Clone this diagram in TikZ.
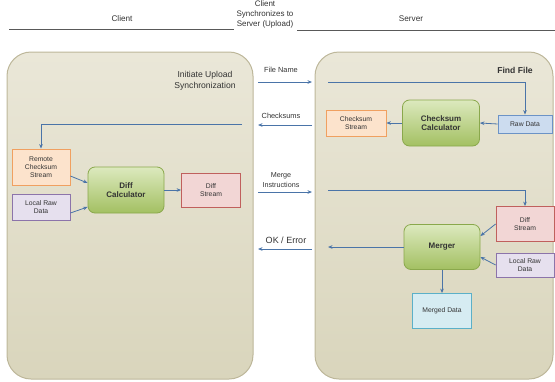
\documentclass[tikz,border=0pt]{standalone}
\usepackage{fontspec}
\setmainfont{Liberation Sans}
\usetikzlibrary{arrows.meta,calc}
\definecolor{arrowc}{HTML}{4A74A8}
\definecolor{txt}{HTML}{333333}
\definecolor{panelT}{HTML}{EAE7D8}
\definecolor{panelB}{HTML}{D9D5BC}
\definecolor{panelD}{HTML}{BDB79A}
\definecolor{greenT}{HTML}{DCE9BE}
\definecolor{greenB}{HTML}{A3C062}
\definecolor{greenD}{HTML}{8AA84C}
\definecolor{orangeF}{HTML}{FCE3CC}
\definecolor{orangeD}{HTML}{F0A060}
\definecolor{purpleF}{HTML}{E6E0EE}
\definecolor{purpleD}{HTML}{8C74AA}
\definecolor{redF}{HTML}{F2D6D5}
\definecolor{redD}{HTML}{C0605D}
\definecolor{blueF}{HTML}{CCDCEF}
\definecolor{blueD}{HTML}{6C93C6}
\definecolor{cyanF}{HTML}{D6ECF2}
\definecolor{cyanD}{HTML}{5BB0C8}
\begin{document}
\begin{tikzpicture}[x=1pt,y=-1pt,
  every node/.style={text=txt},
  small/.style={font=\fontsize{7.4}{8.6}\selectfont},
  mid/.style={font=\fontsize{8.2}{10}\selectfont},
  panel/.style={draw=panelD, line width=1pt, rounded corners=24pt, top color=panelT, bottom color=panelB},
  databox/.style={font=\fontsize{6.8}{8.2}\selectfont, draw, line width=0.8pt, align=center, inner sep=1pt},
  orangebox/.style={databox, draw=orangeD, fill=orangeF},
  purplebox/.style={databox, draw=purpleD, fill=purpleF},
  redbox/.style={databox, draw=redD, fill=redF},
  bluebox/.style={databox, draw=blueD, fill=blueF},
  cyanbox/.style={databox, draw=cyanD, fill=cyanF},
  calcbox/.style={draw=greenD, line width=0.8pt, rounded corners=7pt, top color=greenT, bottom color=greenB, align=center,
     font=\bfseries\fontsize{8}{9.6}\selectfont, minimum width=76pt, minimum height=46pt, inner sep=1pt},
  conn/.style={draw=arrowc, line width=0.8pt, -{Stealth[length=4.5pt,width=3.6pt]}},
  hline/.style={draw=black!65, line width=0.9pt}
]
\useasboundingbox (0,0) rectangle (555,381);

% header
\node[mid] (hclient) at (122,19) {Client};
\node[align=center, font=\fontsize{8}{10}\selectfont] (hsync) at (265,14) {Client\\Synchronizes to\\Server (Upload)};
\node[mid] (hserver) at (411,19) {Server};
\coordinate (hl1) at (9,29);
\coordinate (hl2) at (234,29);
\coordinate (hr1) at (297,30);
\coordinate (hr2) at (555,30);
\draw[hline] (hl1) -- (hl2);
\draw[hline] (hr1) -- (hr2);

% panels
\path[panel] (7,52) rectangle (253,379);
\path[panel] (315,52) rectangle (553,379);

\node[align=center, font=\fontsize{8.6}{11}\selectfont] (initiate) at (205,80.5) {Initiate Upload\\Synchronization};
\node[font=\bfseries\fontsize{8.6}{10}\selectfont] (findfile) at (515,70) {Find File};

% client nodes
\node[orangebox, minimum width=58pt, minimum height=36pt] (remote) at (41,167) {Remote\\Checksum\\Stream};
\node[purplebox, minimum width=58pt, minimum height=26pt] (localc) at (41,207) {Local Raw\\Data};
\node[calcbox] (diffcalc) at (126,190) {Diff\\Calculator};
\node[redbox, minimum width=59pt, minimum height=34pt] (diffc) at (211,190) {Diff\\Stream};

% server nodes
\node[bluebox, minimum width=54pt, minimum height=18pt] (raw) at (525,124) {Raw Data};
\node[calcbox, minimum width=77pt] (cscalc) at (441,123) {Checksum\\Calculator};
\node[orangebox, minimum width=60pt, minimum height=26pt] (csstream) at (356,123) {Checksum\\Stream};
\node[redbox, minimum width=58pt, minimum height=35pt] (diffs) at (525,224) {Diff\\Stream};
\node[calcbox, minimum height=45pt] (merger) at (442,247) {Merger};
\node[purplebox, minimum width=58pt, minimum height=24pt] (locals) at (525,265) {Local Raw\\Data};
\node[cyanbox, minimum width=59pt, minimum height=35pt] (merged) at (442,311) {Merged Data};

% middle arrows
\node[small] (lfile) at (281,70) {File Name};
\node[small] (lcheck) at (281,116) {Checksums};
\node[align=center, font=\fontsize{7.2}{9.5}\selectfont] (lmerge) at (281,180) {Merge\\Instructions};
\node[font=\fontsize{9}{10}\selectfont] (lok) at (286,240) {OK / Error};
\coordinate (a1s) at (258,82);  \coordinate (a1e) at (312,82);
\coordinate (a2s) at (312,125); \coordinate (a2e) at (258,125);
\coordinate (a3s) at (258,192); \coordinate (a3e) at (312,192);
\coordinate (a4s) at (312,249); \coordinate (a4e) at (258,249);
\draw[conn] (a1s) -- (a1e);
\draw[conn] (a2s) -- (a2e);
\draw[conn] (a3s) -- (a3e);
\draw[conn] (a4s) -- (a4e);

% server flows
\coordinate (ff) at (328,82);
\draw[conn] (ff) -| (raw.north);
\draw[conn] (raw.west) -- (cscalc.east);
\draw[conn] (cscalc.west) -- (csstream.east);
\coordinate (mi) at (328,190);
\draw[conn] (mi) -| (diffs.north);
\draw[conn] (diffs.west) -- (merger.east |- 0,236);
\draw[conn] (locals.west) -- (merger.east |- 0,257);
\draw[conn] (merger.south) -- (merged.north);
\coordinate (okl) at (328,247);
\draw[conn] (merger.west) -- (okl);

% client flows
\coordinate (csr) at (242,124);
\draw[conn] (csr) -| (remote.north);
\draw[conn] (remote.east |- 0,176) -- (diffcalc.west |- 0,183);
\draw[conn] (localc.east |- 0,213) -- (diffcalc.west |- 0,207);
\draw[conn] (diffcalc.east) -- (diffc.west);
\end{tikzpicture}
\end{document}
